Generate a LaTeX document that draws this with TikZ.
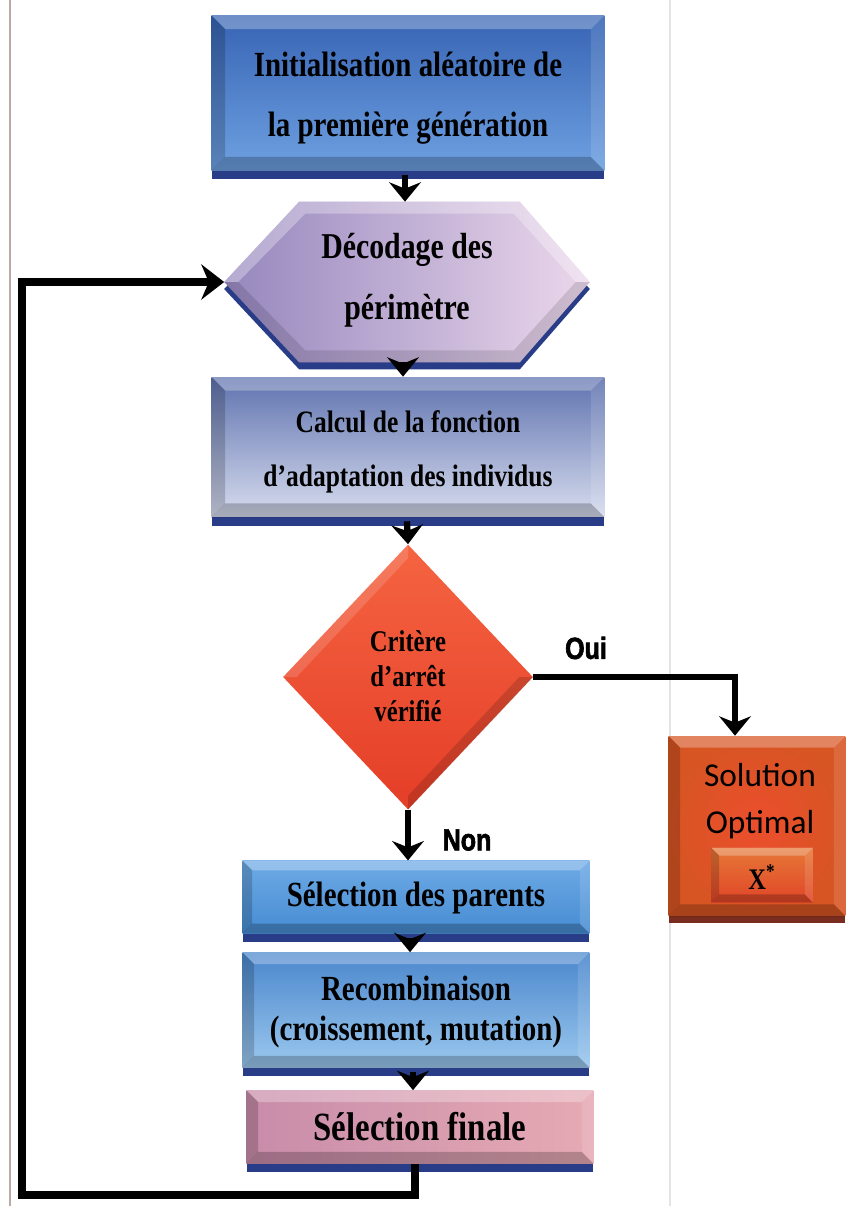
\documentclass[tikz,border=0pt]{standalone}
\usepackage{fontspec}
\setmainfont{Liberation Serif}
\newfontfamily\tnrc[FakeStretch=0.82]{Liberation Serif}
\newfontfamily\calib{Carlito}
\newfontfamily\arialc[FakeStretch=0.82, BoldFeatures={FakeBold=2}]{Liberation Sans}
\usetikzlibrary{arrows.meta,shapes.geometric,calc}
\definecolor{slabblue}{RGB}{40,60,135}
\definecolor{slabred}{RGB}{120,45,30}
\newcommand\bev[2]{%
  \fill[white,opacity=.28] (#1.north west) -- (#1.north east) -- ($(#1.north east)+(-#2,#2)$) -- ($(#1.north west)+(#2,#2)$) -- cycle;
  \fill[black,opacity=.18] (#1.north west) -- (#1.south west) -- ($(#1.south west)+(#2,-#2)$) -- ($(#1.north west)+(#2,#2)$) -- cycle;
  \fill[black,opacity=.22] (#1.south west) -- (#1.south east) -- ($(#1.south east)+(-#2,-#2)$) -- ($(#1.south west)+(#2,-#2)$) -- cycle;
  \fill[white,opacity=.12] (#1.north east) -- (#1.south east) -- ($(#1.south east)+(-#2,-#2)$) -- ($(#1.north east)+(-#2,#2)$) -- cycle;
}
\tikzset{
  box/.style={rectangle, inner sep=0pt, align=center, text=black,
    preaction={fill=slabblue, transform canvas={yshift=-5pt}}},
  tnr/.style 2 args={font=\tnrc\bfseries\fontsize{#1}{#2}\selectfont, align=center, inner sep=0pt},
  arr/.style={line width=3.6pt, -{Stealth[length=11pt,width=18pt]}},
  loopline/.style={line width=4.5pt, -{Stealth[length=13pt,width=20pt]}},
  lbl/.style={font=\arialc\bfseries\fontsize{17.4}{17.4}\selectfont, text=black, inner sep=0pt},
}
\begin{document}
\begin{tikzpicture}[x=0.02cm,y=-0.02cm]
\useasboundingbox (0,0) rectangle (845,1206);
\fill[white] (0,0) rectangle (845,1206);
% page edge artefacts
\draw[color={rgb,255:red,185;green,170;blue,165}, line width=1.6pt] (10,0) -- (10,1206);
\draw[color={rgb,255:red,228;green,228;blue,228}, line width=0.6pt] (670,0) -- (670,1206);

% Box 1
\node[box, minimum width=7.86cm, minimum height=3.1cm,
  top color={rgb,255:red,55;green,100;blue,180}, bottom color={rgb,255:red,110;green,160;blue,225}] (init) at (408,93) {};
\bev{init}{14}
\node[tnr={20.1}{34}] at (408,98) {Initialisation aléatoire de\\ la première génération};

% Hexagon
\node[minimum width=7.3cm, minimum height=3.2cm, inner sep=0pt] (hex) at (407,282) {};
\fill[slabblue, transform canvas={yshift=-4pt}] (hex.west) -- ($(hex.north west)+(75,0)$) -- ($(hex.north east)+(-70,0)$) -- (hex.east) -- ($(hex.south east)+(-70,0)$) -- ($(hex.south west)+(75,0)$) -- cycle;
\shade[left color={rgb,255:red,150;green,135;blue,190}, right color={rgb,255:red,235;green,215;blue,235}]
  (hex.west) -- ($(hex.north west)+(75,0)$) -- ($(hex.north east)+(-70,0)$) -- (hex.east) -- ($(hex.south east)+(-70,0)$) -- ($(hex.south west)+(75,0)$) -- cycle;
\fill[white,opacity=.3] (hex.west) -- ($(hex.north west)+(75,0)$) -- ($(hex.north east)+(-70,0)$) -- (hex.east) -- ($(hex.east)+(-14,0)$) -- ($(hex.north east)+(-76,12)$) -- ($(hex.north west)+(81,12)$) -- ($(hex.west)+(14,0)$) -- cycle;
\fill[black,opacity=.12] (hex.west) -- ($(hex.south west)+(75,0)$) -- ($(hex.south east)+(-70,0)$) -- (hex.east) -- ($(hex.east)+(-14,0)$) -- ($(hex.south east)+(-76,-12)$) -- ($(hex.south west)+(81,-12)$) -- ($(hex.west)+(14,0)$) -- cycle;
\node[tnr={20.7}{35}] at (407,280) {Décodage des\\ périmètre};

% Box 3
\node[box, minimum width=7.86cm, minimum height=2.8cm,
  top color={rgb,255:red,95;green,115;blue,175}, bottom color={rgb,255:red,215;green,220;blue,238}] (calc) at (408,447) {};
\bev{calc}{14}
\node[tnr={17.7}{31}] at (408,452) {Calcul de la fonction\\ d’adaptation des individus};

% Diamond
\node[diamond, minimum width=5cm, minimum height=5.3cm, inner sep=0pt,
  top color={rgb,255:red,245;green,100;blue,65}, bottom color={rgb,255:red,228;green,62;blue,40}] (dia) at (408,677) {};
\fill[white,opacity=.15] (dia.north) -- (dia.west) -- ($(dia.west)+(14,0)$) -- ($(dia.north)+(0,14)$) -- cycle;
\fill[black,opacity=.15] (dia.south) -- (dia.east) -- ($(dia.east)+(-14,0)$) -- ($(dia.south)+(0,-14)$) -- cycle;
\node[tnr={17.1}{20}] at (408,676) {Critère\\ d’arrêt\\ vérifié};

% Solution
\node[rectangle, minimum width=3.54cm, minimum height=3.6cm, inner sep=0pt,
  preaction={fill=slabred, transform canvas={yshift=-4pt}},
  inner color={rgb,255:red,236;green,78;blue,45}, outer color={rgb,255:red,215;green,85;blue,35}] (sol) at (757,826) {};
\bev{sol}{12}
\node[font=\calib\fontsize{19}{27}\selectfont, align=center, inner sep=0pt] at (760,801) {Solution\\ Optimal};
\node[rectangle, minimum width=2.02cm, minimum height=1.08cm, inner sep=0pt,
  top color={rgb,255:red,230;green,120;blue,55}, bottom color={rgb,255:red,225;green,70;blue,40}] (xs) at (762,875) {};
\bev{xs}{8}
\node[tnr={17}{17}] at (762,877) {X\textsuperscript{*}};

% Sélection des parents
\node[box, minimum width=6.94cm, minimum height=1.45cm,
  top color={rgb,255:red,110;green,170;blue,230}, bottom color={rgb,255:red,70;green,140;blue,210}] (selp) at (416,897) {};
\bev{selp}{10}
\node[tnr={20.1}{20.1}] at (416,898) {Sélection des parents};

% Recombinaison
\node[box, minimum width=6.94cm, minimum height=2.3cm,
  top color={rgb,255:red,75;green,135;blue,205}, bottom color={rgb,255:red,155;green,200;blue,238}] (rec) at (416,1010) {};
\bev{rec}{12}
\node[tnr={20.1}{23}] at (416,1012) {Recombinaison\\ (croissement, mutation)};

% Sélection finale
\node[box, minimum width=6.94cm, minimum height=1.46cm,
  left color={rgb,255:red,200;green,140;blue,170}, right color={rgb,255:red,230;green,170;blue,180}] (fin) at (420,1127) {};
\bev{fin}{12}
\node[tnr={22.8}{22.8}] at (420,1127) {Sélection finale};

% connectors
\draw[arr] ($(init.south)+(-3,4)$) -- ($(hex.north)+(-2,0)$);
\draw[arr] ($(hex.south)+(-4,0)$) -- ($(calc.north)+(-5,0)$);
\draw[arr] ($(calc.south)+(-1,4)$) -- (dia.north);
\draw[arr] (dia.south) -- (dia.south |- selp.north);
\draw[arr] ($(selp.south)+(-6,4)$) -- ($(rec.north)+(-6,0)$);
\draw[arr] ($(rec.south)+(-3,4)$) -- ($(fin.north)+(-7,0)$);
\coordinate (oc) at ($(sol.north)+(-22,0)$);
\draw[arr] (dia.east) -| (oc);
\coordinate (lb) at (22,1195);
\draw[loopline] ($(fin.south)+(-5,0)$) |- (lb) |- (hex.west);

\node[lbl] at (586,648) {Oui};
\node[lbl] at (467,840) {Non};
\end{tikzpicture}
\end{document}
